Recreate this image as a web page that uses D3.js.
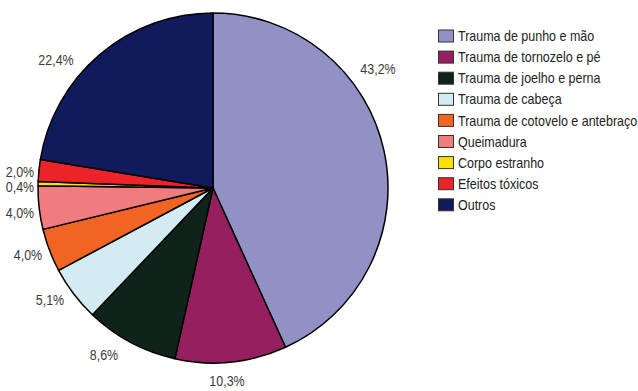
<!DOCTYPE html>
<html>
<head>
<meta charset="utf-8">
<script src="https://cdn.jsdelivr.net/npm/d3@7"></script>
<style>
  html, body { margin: 0; padding: 0; background: #fff; }
  svg { display: block; }
  text { font-family: "Liberation Sans", Arial, sans-serif; }
</style>
</head>
<body>
<svg id="chart" width="638" height="391"></svg>
<script>
// Categories (clockwise from 12 o'clock)
const categories = [
  "Trauma de punho e mão",
  "Trauma de tornozelo e pé",
  "Trauma de joelho e perna",
  "Trauma de cabeça",
  "Trauma de cotovelo e antebraço",
  "Queimadura",
  "Corpo estranho",
  "Efeitos tóxicos",
  "Outros"
];
// Share of cases, %
const values = [43.2, 10.3, 8.6, 5.1, 4.0, 4.0, 0.4, 2.0, 22.4];
const colors = ["#9191c5", "#961f5f", "#10231a", "#d3ebf3", "#f26424", "#f07c80", "#ffe100", "#ee2229", "#111a5c"];
// Where each percentage label sits (centre of the text)
const labelPos = [[378, 69], [227, 381], [104, 355], [50, 300], [28, 255], [20, 213], [20, 187], [20, 172], [56, 60]];

const svg = d3.select("#chart");
const cx = 213, cy = 188, r = 175;

const pie = d3.pie().value(d => d).sort(null);
const arc = d3.arc().innerRadius(0).outerRadius(r);
const arcs = pie(values);

const g = svg.append("g").attr("transform", `translate(${cx},${cy})`);
g.selectAll("path.slice")
  .data(arcs)
  .join("path")
  .attr("class", "slice")
  .attr("d", arc)
  .attr("fill", (d, i) => colors[i])
  .attr("stroke", "#000")
  .attr("stroke-width", 1.5)
  .attr("stroke-linejoin", "round");

// Condensed look: squeeze the regular face horizontally
const fmt = v => v.toFixed(1).replace(".", ",") + "%";
svg.selectAll("g.pct")
  .data(arcs)
  .join("g")
  .attr("class", "pct")
  .attr("transform", (d, i) => `translate(${labelPos[i][0]},${labelPos[i][1]}) scale(0.86,1)`)
  .append("text")
  .attr("dy", "0.36em")
  .attr("text-anchor", "middle")
  .attr("font-size", 14.5)
  .attr("fill", "#3a3a3a")
  .text(d => fmt(d.data));

// Legend
const legend = svg.append("g").attr("transform", "translate(438,36)");
const rowH = 21.1;
const rows = legend.selectAll("g.row")
  .data(categories)
  .join("g")
  .attr("class", "row")
  .attr("transform", (d, i) => `translate(0,${i * rowH})`);
rows.append("rect")
  .attr("x", 0.5).attr("y", -6)
  .attr("width", 15).attr("height", 12)
  .attr("fill", (d, i) => colors[i])
  .attr("stroke", "#333")
  .attr("stroke-width", 1);
rows.append("g")
  .attr("transform", "translate(20,0) scale(0.88,1)")
  .append("text")
  .attr("dy", "0.36em")
  .attr("font-size", 14.2)
  .attr("fill", "#222")
  .text(d => d);
</script>
</body>
</html>
